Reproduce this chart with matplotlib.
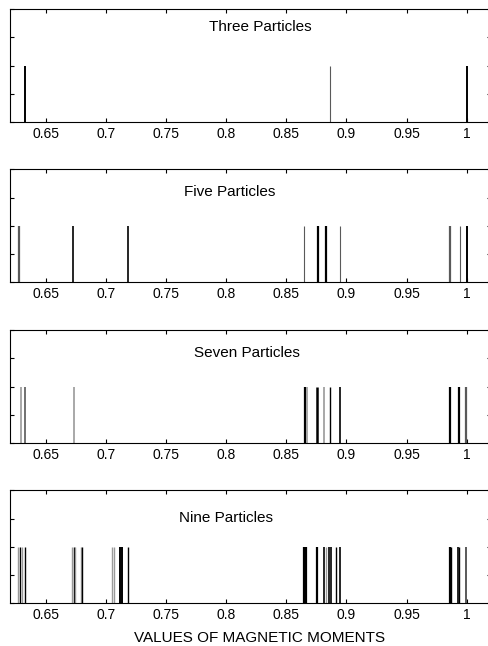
import numpy as np
import matplotlib.pyplot as plt

plt.rcParams['font.family'] = ['Liberation Sans', 'DejaVu Sans']

# Magnetic moment values, one list per panel
titles = ['Three Particles', 'Five Particles', 'Seven Particles', 'Nine Particles']

three = [0.6322, 0.8864, 1.0]
five = [0.6273, 0.6725, 0.7186, 0.8648, 0.8760, 0.8826, 0.8948, 0.9863, 0.9941, 1.0]
seven = [0.6295, 0.6325, 0.6736, 0.8656, 0.8670, 0.8751, 0.8809, 0.8864, 0.8945,
         0.9863, 0.9936, 0.9991]
nine = [0.6267, 0.6285, 0.6300, 0.6325, 0.6714, 0.6730, 0.6741, 0.6791, 0.6803,
        0.7051, 0.7066, 0.7119, 0.7130, 0.7183, 0.8650, 0.8662, 0.8751, 0.8812,
        0.8826, 0.8856, 0.8868, 0.8909, 0.8945, 0.9863, 0.9868, 0.9930, 0.9936,
        0.9991]
values = [three, five, seven, nine]

# line styles (shade, width) per line -- just the look, not data
K, G, D = 'k', '0.6', '0.35'
styles = [
    [(K, 1.4), (D, 0.8), (K, 1.4)],
    [(D, 1.6), (K, 1.2), (K, 1.2), (D, 0.8), (K, 1.6), (K, 1.6), (D, 0.8),
     (D, 1.6), (D, 0.8), (K, 1.4)],
    [(G, 1.2), (D, 1.2), (G, 1.2), (K, 1.6), (G, 1.2), (K, 1.8), (G, 1.2),
     (K, 1.0), (K, 1.2), (K, 1.6), (K, 1.6), (D, 1.6)],
    [(G, 1.0), (K, 1.0), (G, 1.0), (K, 1.0), (G, 1.0), (K, 1.0), (G, 1.0),
     (G, 1.0), (K, 1.0), (G, 1.0), (G, 1.0), (K, 1.4), (K, 1.4), (K, 1.0),
     (K, 1.6), (K, 1.6), (K, 1.6), (K, 1.2), (G, 1.0), (K, 1.2), (K, 1.2),
     (K, 1.0), (K, 1.2), (K, 1.6), (K, 1.0), (K, 1.2), (K, 1.0), (D, 1.4)],
]

label_pos = [(0.8287, 1.69), (0.803, 1.60), (0.817, 1.60), (0.800, 1.51)]

W, H = 489, 646
fig = plt.figure(figsize=(W / 100, H / 100), dpi=100)

tops = [9, 169.3, 330, 490.3]
ax_h = 113
left_px, right_px = 10, 490.7

for i, (vals, sty, title) in enumerate(zip(values, styles, titles)):
    ax = fig.add_axes([left_px / W, 1 - (tops[i] + ax_h) / H,
                       (right_px - left_px) / W, ax_h / H])
    for v, (c, lw) in zip(vals, sty):
        ax.vlines(v, 0, 1, colors=c, linewidth=lw)
    ax.set_xlim(0.62, 1.02)
    ax.set_ylim(0, 2)
    ax.set_xticks(np.arange(0.65, 1.001, 0.05))
    ax.set_xticklabels(['0.65', '0.7', '0.75', '0.8', '0.85', '0.9', '0.95', '1'])
    ax.set_yticks([0, 0.5, 1, 1.5, 2])
    ax.set_yticklabels([])
    ax.tick_params(direction='in', top=True, right=True, length=3,
                   width=0.8, labelsize=10, pad=3.5)
    for s in ax.spines.values():
        s.set_linewidth(0.8)
    tx, ty = label_pos[i]
    ax.text(tx, ty, title, ha='center', va='center', fontsize=11)

fig.text(260 / W, 1 - 638.3 / H, 'VALUES OF MAGNETIC MOMENTS',
         ha='center', va='center', fontsize=11)

fig.savefig('out.png', dpi=100)
